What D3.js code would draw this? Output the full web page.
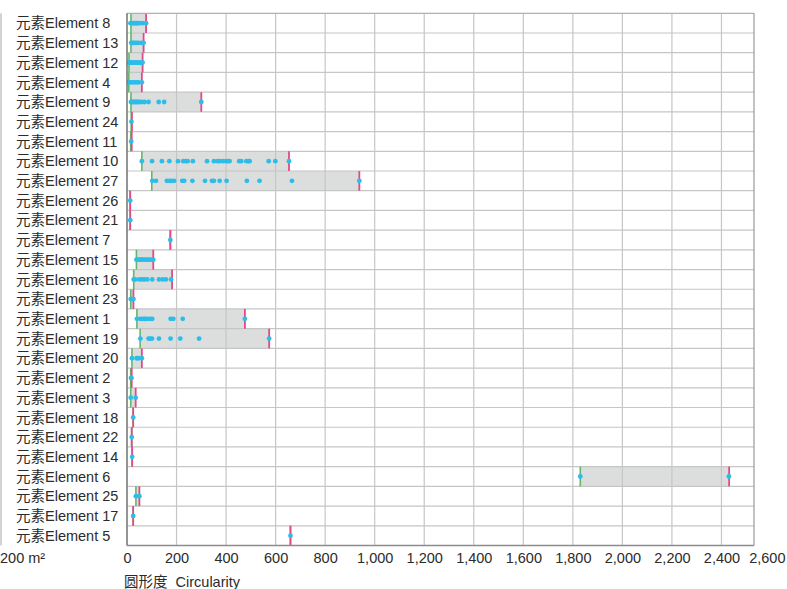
<!DOCTYPE html>
<html>
<head>
<meta charset="utf-8">
<script src="https://cdn.jsdelivr.net/npm/d3@7"></script>
<style>
  body { margin: 0; background: #fff; }
  svg { display: block; font-family: "Liberation Sans", Arial, "Noto Sans CJK SC", sans-serif; }
</style>
</head>
<body>
<svg id="chart" width="787" height="589"></svg>
<script>
// Element categories, top to bottom
const categories = [
  "元素Element 8", "元素Element 13", "元素Element 12", "元素Element 4", "元素Element 9",
  "元素Element 24", "元素Element 11", "元素Element 10", "元素Element 27", "元素Element 26",
  "元素Element 21", "元素Element 7", "元素Element 15", "元素Element 16", "元素Element 23",
  "元素Element 1", "元素Element 19", "元素Element 20", "元素Element 2", "元素Element 3",
  "元素Element 18", "元素Element 22", "元素Element 14", "元素Element 6", "元素Element 25",
  "元素Element 17", "元素Element 5"
];

// Range of circularity per element (min / max)
const minValues = [16, 16, 8, 7, 16, 17, 15, 60, 100, 13, 13, 175, 38, 27, 15, 40, 53, 20, 15, 15, 25, 19, 21, 1830, 36, 25, 660];
const maxValues = [77, 67, 63, 60, 300, 20, 19, 654, 938, 13, 13, 175, 106, 182, 26, 476, 574, 60, 19, 35, 25, 19, 21, 2431, 50, 25, 660];

// Individual measurements per element
const pointValues = [
  [14, 18, 22, 27, 31, 36, 40, 45, 50, 63, 77],
  [17, 22, 27, 33, 40, 47, 58, 67],
  [7, 10, 14, 19, 23, 27, 31, 36, 40, 45, 49, 54, 58, 63],
  [5, 9, 16, 24, 32, 40, 47, 60],
  [16, 21, 26, 31, 36, 41, 46, 52, 60, 71, 87, 128, 150, 300],
  [18],
  [17],
  [60, 101, 141, 171, 206, 227, 237, 245, 266, 323, 351, 366, 373, 386, 399, 408, 414, 453, 461, 482, 490, 495, 572, 599, 654],
  [102, 117, 161, 172, 180, 190, 223, 231, 264, 315, 343, 351, 374, 402, 484, 535, 666, 938],
  [13],
  [13],
  [175],
  [38, 44, 50, 56, 62, 68, 75, 82, 89, 96, 106],
  [27, 34, 50, 60, 70, 82, 102, 129, 144, 157, 178],
  [15, 18, 21, 24, 26],
  [40, 54, 63, 70, 76, 83, 94, 102, 176, 187, 225, 476],
  [54, 87, 94, 101, 129, 176, 215, 291, 574],
  [20, 39, 46, 60],
  [16, 18],
  [15, 35],
  [25],
  [19],
  [21],
  [1830, 2430],
  [36, 50],
  [25],
  [660]
];

const xTicks = [0, 200, 400, 600, 800, 1000, 1200, 1400, 1600, 1800, 2000, 2200, 2400, 2600];
const axisTitle = "圆形度  Circularity";
const unitNote = "200 m²";

const svg = d3.select("#chart");
const plot = { left: 127, top: 13.3, right: 754, bottom: 545.5 };
const textColor = "#2b2b2b";
const fontSize = 14.5;

const x = d3.scaleLinear().domain([0, 2600]).range([plot.left, 771]);
const y = d3.scaleBand().domain(categories).range([plot.top, plot.bottom]).padding(0);
const bw = y.bandwidth();

const rows = categories.map((c, i) => ({ name: c, min: minValues[i], max: maxValues[i], pts: pointValues[i] }));

// faint rule at the far left edge
svg.append("line")
  .attr("x1", 1).attr("x2", 1).attr("y1", plot.top).attr("y2", plot.bottom)
  .attr("stroke", "#c4c4c4").attr("stroke-width", 1.5);

svg.append("clipPath").attr("id", "plotClip")
  .append("rect").attr("x", plot.left).attr("y", plot.top)
  .attr("width", plot.right - plot.left).attr("height", plot.bottom - plot.top);

const g = svg.append("g").attr("clip-path", "url(#plotClip)");

// min-max range bands
g.selectAll("rect.band").data(rows).join("rect")
  .attr("class", "band")
  .attr("x", d => x(d.min))
  .attr("width", d => Math.max(0, x(d.max) - x(d.min)))
  .attr("y", d => y(d.name))
  .attr("height", bw)
  .attr("fill", "#dcdddd");

// vertical grid
g.selectAll("line.vgrid").data(xTicks.filter(t => t > 0)).join("line")
  .attr("class", "vgrid")
  .attr("x1", d => x(d)).attr("x2", d => x(d))
  .attr("y1", plot.top).attr("y2", plot.bottom)
  .attr("stroke", "#c6c6c6").attr("stroke-width", 1.2);

// horizontal row separators
g.selectAll("line.hgrid").data(categories.slice(1)).join("line")
  .attr("class", "hgrid")
  .attr("x1", plot.left).attr("x2", plot.right)
  .attr("y1", d => y(d)).attr("y2", d => y(d))
  .attr("stroke", "#c6c6c6").attr("stroke-width", 1.2);

// min markers
g.selectAll("line.minMark").data(rows).join("line")
  .attr("class", "minMark")
  .attr("x1", d => x(d.min)).attr("x2", d => x(d.min))
  .attr("y1", d => y(d.name)).attr("y2", d => y(d.name) + bw)
  .attr("stroke", "#62b866").attr("stroke-width", 1.6);

// max markers
g.selectAll("line.maxMark").data(rows).join("line")
  .attr("class", "maxMark")
  .attr("x1", d => x(d.max)).attr("x2", d => x(d.max))
  .attr("y1", d => y(d.name)).attr("y2", d => y(d.name) + bw)
  .attr("stroke", "#e2498a").attr("stroke-width", 1.8);

// measurements
const pts = rows.flatMap(r => r.pts.map(v => ({ name: r.name, v })));
g.selectAll("circle.pt").data(pts).join("circle")
  .attr("class", "pt")
  .attr("cx", d => x(d.v))
  .attr("cy", d => y(d.name) + bw / 2)
  .attr("r", 2.4)
  .attr("fill", "#2cbde8");

// frame
svg.append("line").attr("x1", plot.left).attr("x2", plot.right).attr("y1", plot.top).attr("y2", plot.top)
  .attr("stroke", "#b0b0b0").attr("stroke-width", 1.2);
svg.append("line").attr("x1", plot.right).attr("x2", plot.right).attr("y1", plot.top).attr("y2", plot.bottom)
  .attr("stroke", "#9a9a9a").attr("stroke-width", 1.2);
svg.append("line").attr("x1", plot.left).attr("x2", plot.right).attr("y1", plot.bottom).attr("y2", plot.bottom)
  .attr("stroke", "#8c8c8c").attr("stroke-width", 1.4);
svg.append("line").attr("x1", plot.left).attr("x2", plot.left).attr("y1", plot.top).attr("y2", plot.bottom)
  .attr("stroke", "#7a7a7a").attr("stroke-width", 1.6);

// category labels
svg.selectAll("text.cat").data(categories).join("text")
  .attr("class", "cat")
  .attr("x", 16)
  .attr("y", d => y(d) + bw / 2)
  .attr("dy", "0.36em")
  .attr("font-size", fontSize)
  .attr("fill", textColor)
  .text(d => d);

// x axis labels
const xAxis = d3.axisBottom(x).tickValues(xTicks).tickSize(0).tickPadding(0).tickFormat(d3.format(","));
const ax = svg.append("g").attr("transform", `translate(0,${plot.bottom + 7})`).call(xAxis);
ax.select(".domain").remove();
ax.selectAll("text").attr("font-size", fontSize).attr("fill", textColor)
  .attr("font-family", "\"Liberation Sans\", Arial, sans-serif");
// keep the last label inside the page
ax.selectAll(".tick").filter(d => d === 2600).select("text").attr("text-anchor", "end").attr("dx", 14);

// axis title
svg.append("text").attr("x", 124).attr("y", 587).attr("font-size", fontSize).attr("fill", textColor)
  .attr("xml:space", "preserve").text(axisTitle);

// unit note
svg.append("text").attr("x", 0).attr("y", 563).attr("font-size", fontSize).attr("fill", textColor).text(unitNote);
</script>
</body>
</html>
